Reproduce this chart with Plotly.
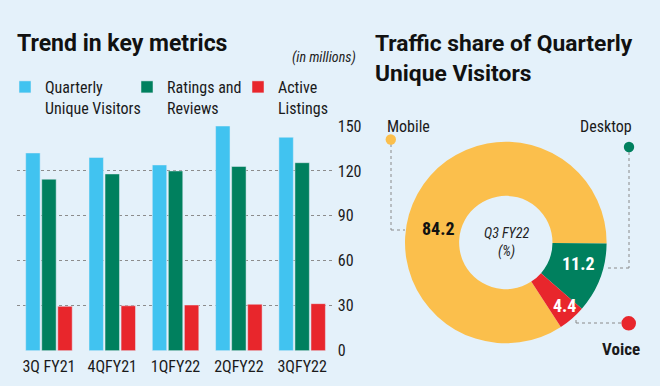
import plotly.graph_objects as go

# ---- data ----
quarters = ["3Q FY21", "4QFY21", "1QFY22", "2QFY22", "3QFY22"]
unique_visitors = [132, 129, 124, 150, 142.5]
ratings_reviews = [114.5, 118, 120, 123, 125.5]
active_listings = [29.6, 30, 30.5, 31, 31.4]
y_ticks = [0, 30, 60, 90, 120, 150]

share_labels = ["Mobile", "Desktop", "Voice"]
share_values = [84.2, 11.2, 4.4]

# ---- style ----
W, H = 660, 386
BG = "#E4F1FA"
CYAN, GREEN, RED, YELLOW = "#41C3F0", "#00805E", "#E8262C", "#FBBF4C"
COND = "Roboto Condensed, Liberation Sans Narrow, DejaVu Sans Condensed, Roboto, sans-serif"
TITLE = "Roboto, Open Sans, sans-serif"
INK = "#1a1a1a"

def px(x):
    return x / W

def py(y):
    return 1 - y / H

fig = go.Figure()
fig.add_trace(go.Bar(x=quarters, y=unique_visitors, name="Quarterly<br>Unique Visitors",
                     marker_color=CYAN, legendwidth=77))
fig.add_trace(go.Bar(x=quarters, y=ratings_reviews, name="Ratings and<br>Reviews",
                     marker_color=GREEN, legendwidth=66))
fig.add_trace(go.Bar(x=quarters, y=active_listings, name="Active<br>Listings",
                     marker_color=RED, legendwidth=65))

fig.add_trace(go.Pie(
    labels=share_labels, values=share_values, hole=0.463, sort=False,
    direction="clockwise", rotation=146.9,
    marker=dict(colors=[YELLOW, GREEN, RED], line=dict(width=0)),
    textinfo="none",
    domain=dict(x=[px(405), px(606.6)], y=[py(343.3), py(141.7)]),
    showlegend=False, hoverinfo="label+value",
))

fig.update_layout(
    width=W, height=H, margin=dict(l=0, r=0, t=0, b=0, autoexpand=False),
    paper_bgcolor=BG, plot_bgcolor=BG,
    barmode="group", bargap=0.24, bargroupgap=0.1,
    font=dict(family=COND, color=INK),
    legend=dict(orientation="h", x=px(5), y=py(70), xanchor="left", yanchor="top",
                valign="top", bgcolor="rgba(0,0,0,0)", font=dict(family=COND, size=16, color=INK),
                itemclick=False, tracegroupgap=0),
    xaxis=dict(domain=[px(17.3), px(333.8)], showgrid=False, zeroline=False, automargin=False,
               tickfont=dict(family=COND, size=16, color=INK), ticks="", showline=False,
               ticklabelstandoff=4),
    yaxis=dict(domain=[py(350.7), py(126)], range=[0, 150], side="right", automargin=False,
               tickvals=y_ticks, showgrid=True, gridcolor="#8c8c8c", griddash="dot",
               gridwidth=1, zeroline=False, ticks="", ticklabelstandoff=3,
               tickfont=dict(family=COND, size=16, color=INK)),
)

# slice value labels (text from data)
value_label_pos = [(438, 228), (578, 263), (564, 305)]
value_label_col = ["#111111", "white", "white"]

annotations = [
    dict(text="<b>Trend in key metrics</b>", x=px(15), y=py(44), xanchor="left", yanchor="middle",
         font=dict(family=TITLE, size=23, color="#111")),
    dict(text="<i>(in millions)</i>", x=px(358), y=py(58), xanchor="right", yanchor="middle",
         font=dict(family=COND, size=14, color="#222")),
    dict(text="<b>Traffic share of Quarterly<br>Unique Visitors</b>", x=px(373), y=py(59),
         xanchor="left", yanchor="middle", align="left",
         font=dict(family=TITLE, size=22.8, color="#111")),
    dict(text="<i>Q3 FY22<br>(%)</i>", x=px(506), y=py(242), xanchor="center", yanchor="middle",
         font=dict(family=COND, size=14, color="#222")),
    dict(text="Mobile", x=px(385), y=py(126), xanchor="left", yanchor="middle",
         font=dict(family=COND, size=16, color=INK)),
    dict(text="Desktop", x=px(634), y=py(126), xanchor="right", yanchor="middle",
         font=dict(family=COND, size=16, color=INK)),
    dict(text="<b>Voice</b>", x=px(621), y=py(349), xanchor="center", yanchor="middle",
         font=dict(family=COND, size=17, color=INK)),
]
for v, (lx, ly), c in zip(share_values, value_label_pos, value_label_col):
    annotations.append(dict(text=f"<b>{v}</b>", x=px(lx), y=py(ly), xanchor="center",
                            yanchor="middle", font=dict(family=COND, size=18, color=c)))
for a in annotations:
    a.update(xref="paper", yref="paper", showarrow=False)
fig.update_layout(annotations=annotations)

line_style = dict(color="#8a8a8a", width=1, dash="dot")
shapes = []
def seg(x0, y0, x1, y1):
    shapes.append(dict(type="line", xref="paper", yref="paper",
                       x0=px(x0), y0=py(y0), x1=px(x1), y1=py(y1), line=line_style))

def dot(cx, cy, r, color):
    shapes.append(dict(type="circle", xref="paper", yref="paper",
                       x0=px(cx - r), x1=px(cx + r), y0=py(cy + r), y1=py(cy - r),
                       fillcolor=color, line=dict(width=0)))

seg(391, 144, 391, 230); seg(391, 230, 405, 230)
seg(629, 152, 629, 268); seg(629, 268, 605, 268)
seg(621, 323, 576, 323); seg(576, 323, 576, 318)
dot(390.8, 139.5, 5.2, YELLOW)
dot(629, 147, 5.2, GREEN)
dot(628.7, 323.3, 7.3, RED)
fig.update_layout(shapes=shapes)

fig.write_html("out.html", config={"displayModeBar": False},
               post_script="document.body.style.margin='0';")
